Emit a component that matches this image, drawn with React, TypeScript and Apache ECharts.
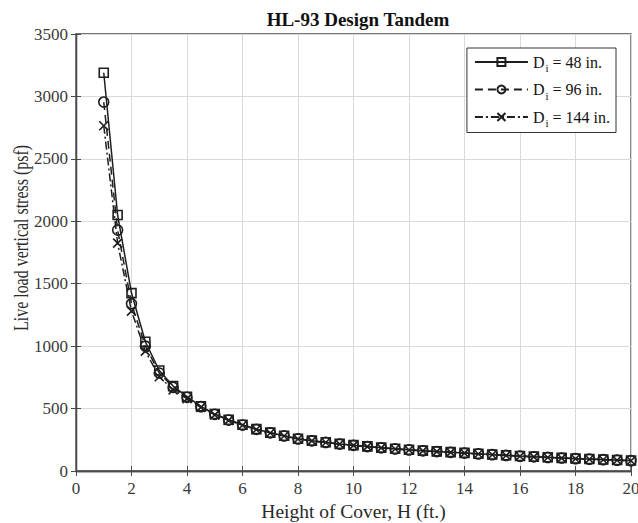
import React, { useEffect, useRef } from "react";
import * as echarts from "echarts";

// Height of cover, H (ft.)
const heights: number[] = [
  1, 1.5, 2, 2.5, 3, 3.5, 4, 4.5, 5, 5.5, 6, 6.5, 7, 7.5, 8, 8.5, 9, 9.5, 10,
  10.5, 11, 11.5, 12, 12.5, 13, 13.5, 14, 14.5, 15, 15.5, 16, 16.5, 17, 17.5,
  18, 18.5, 19, 19.5, 20,
];

// Live load vertical stress (psf) for each pipe diameter
const stressD48: number[] = [
  3190, 2050, 1425, 1035, 805, 680, 595, 518, 456, 410, 370, 335, 307, 282,
  258, 243, 230, 217, 207, 197, 187, 178, 170, 163, 157, 151, 145, 138, 132,
  126, 120, 115, 110, 105, 100, 96, 92, 88, 84,
];
const stressD96: number[] = [
  2955, 1930, 1340, 1000, 785, 670, 590, 515, 454, 408, 368, 334, 306, 281,
  257, 242, 229, 216, 206, 196, 186, 177, 169, 162, 156, 150, 144, 137, 131,
  125, 119, 114, 109, 104, 99, 95, 91, 87, 83,
];
const stressD144: number[] = [
  2765, 1825, 1280, 960, 755, 650, 580, 510, 450, 405, 366, 332, 304, 280,
  256, 241, 228, 215, 205, 195, 185, 176, 168, 161, 155, 149, 143, 136, 130,
  124, 118, 113, 108, 103, 98, 94, 90, 86, 82,
];

const seriesNames: string[] = ["D48", "D96", "D144"];
const diameters: string[] = ["48", "96", "144"];

const FONT = "Liberation Serif";
const INK = "#1e1e1e";
const AXIS = "#4a4a4a";

const crossPath = "path://M0,0L10,10M10,0L0,10";

export default function App() {
  const ref = useRef<HTMLDivElement>(null);

  useEffect(() => {
    if (!ref.current) return;
    const chart = echarts.init(ref.current, undefined, { renderer: "svg" });

    const pairs = (ys: number[]) => heights.map((h, i) => [h, ys[i]]);

    const tickLabel = {
      fontFamily: FONT,
      fontSize: 17,
      color: "#3a3a3a",
      formatter: (v: number) => String(v),
    };
    const sideTick = { show: true, inside: true, length: 5, lineStyle: { color: AXIS } };
    const axisLine = { show: true, lineStyle: { color: AXIS, width: 1.3 } };
    const grid = { show: true, lineStyle: { color: "#dcd8d6", width: 1 } };

    const option: any = {
      animation: false,
      backgroundColor: "#ffffff",
      textStyle: { fontFamily: FONT },
      title: {
        text: "HL-93 Design Tandem",
        left: 353,
        textAlign: "center",
        top: 5,
        textStyle: {
          fontFamily: FONT,
          fontSize: 19,
          fontWeight: "bold",
          color: "#111",
        },
      },
      // vertical axis title, set in a narrow serif
      graphic: [
        {
          type: "text",
          x: 21,
          y: 238,
          rotation: Math.PI / 2,
          scaleX: 0.76,
          style: {
            text: "Live load vertical stress (psf)",
            fontFamily: FONT,
            fontSize: 21,
            fill: "#2a2a2a",
            align: "center",
            verticalAlign: "middle",
          },
        },
      ],
      grid: {
        left: 76,
        right: 7,
        top: 34,
        bottom: 52,
        containLabel: false,
        outerBoundsMode: "none",
        show: true,
        borderColor: AXIS,
        borderWidth: 1.3,
        backgroundColor: "#ffffff",
      },
      legend: {
        orient: "vertical",
        right: 22,
        top: 48,
        itemWidth: 53,
        itemHeight: 10,
        itemGap: 8,
        padding: [6, 6, 4, 7],
        borderColor: "#333",
        borderWidth: 1,
        backgroundColor: "#fff",
        data: seriesNames,
        formatter: (name: string) => {
          const d = diameters[seriesNames.indexOf(name)];
          return `{d|D}{s|i}{t| = ${d} in.}`;
        },
        textStyle: {
          fontFamily: FONT,
          color: "#111",
          rich: {
            d: { fontFamily: FONT, fontSize: 16, color: "#111" },
            s: {
              fontFamily: FONT,
              fontSize: 11,
              color: "#111",
              padding: [12, 0, 0, 1],
            },
            t: { fontFamily: FONT, fontSize: 16, color: "#111" },
          },
        },
      },
      xAxis: [
        {
          type: "value",
          min: 0,
          max: 20,
          interval: 2,
          name: "Height of Cover, H (ft.)",
          nameLocation: "middle",
          nameGap: 29,
          nameTextStyle: { fontFamily: FONT, fontSize: 19.5, color: "#2a2a2a" },
          axisLine,
          axisTick: sideTick,
          axisLabel: { ...tickLabel, margin: 9 },
          splitLine: grid,
        },
        {
          type: "value",
          position: "top",
          min: 0,
          max: 20,
          interval: 2,
          axisLine,
          axisTick: sideTick,
          axisLabel: { show: false },
          splitLine: { show: false },
        },
      ],
      yAxis: [
        {
          type: "value",
          min: 0,
          max: 3500,
          interval: 500,
          axisLine,
          axisTick: sideTick,
          axisLabel: { ...tickLabel, margin: 8 },
          splitLine: grid,
        },
        {
          type: "value",
          position: "right",
          min: 0,
          max: 3500,
          interval: 500,
          axisLine,
          axisTick: sideTick,
          axisLabel: { show: false },
          splitLine: { show: false },
        },
      ],
      series: [
        {
          type: "line",
          name: seriesNames[0],
          data: pairs(stressD48),
          symbol: "rect",
          symbolSize: 9,
          z: 4,
          lineStyle: { color: INK, width: 1.5, type: "solid" },
          itemStyle: { color: "rgba(255,255,255,0)", borderColor: INK, borderWidth: 1.6 },
        },
        {
          type: "line",
          name: seriesNames[1],
          data: pairs(stressD96),
          symbol: "circle",
          symbolSize: 10,
          z: 3,
          lineStyle: { color: INK, width: 1.5, type: [8, 5] },
          itemStyle: { color: "rgba(255,255,255,0)", borderColor: INK, borderWidth: 1.6 },
        },
        {
          type: "line",
          name: seriesNames[2],
          data: pairs(stressD144),
          symbol: crossPath,
          symbolSize: 9,
          z: 2,
          lineStyle: { color: INK, width: 1.5, type: [8, 3, 2, 3] },
          itemStyle: { color: "rgba(255,255,255,0)", borderColor: INK, borderWidth: 1.6 },
        },
      ],
    };

    chart.setOption(option);
    return () => chart.dispose();
  }, []);

  return (
    <div
      ref={ref}
      style={{ position: "fixed", left: 0, top: 0, width: 638, height: 523 }}
    />
  );
}
